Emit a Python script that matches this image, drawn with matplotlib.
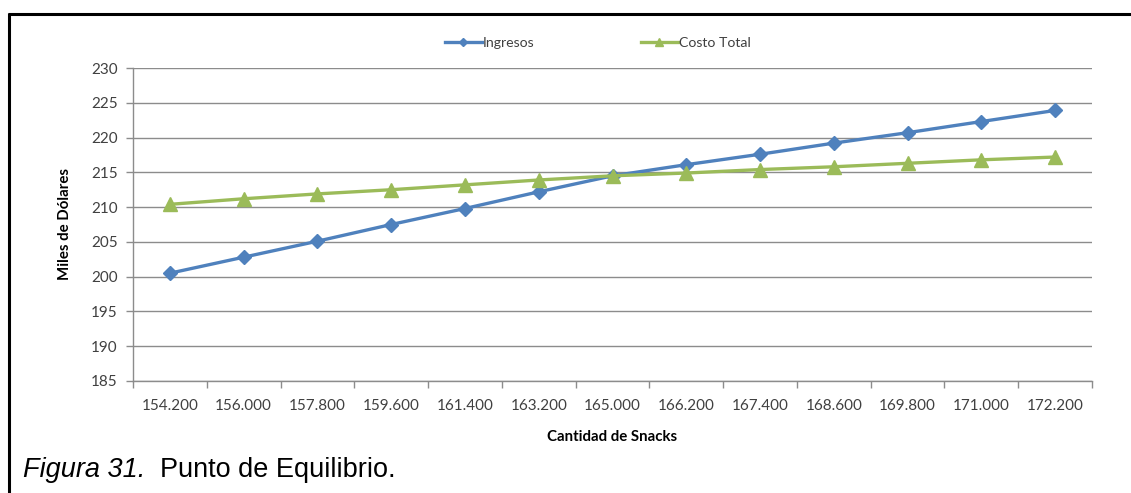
import matplotlib
matplotlib.use("Agg")
import matplotlib.pyplot as plt
from matplotlib.lines import Line2D

# Quantity of snacks (thousands) and amounts in thousands of dollars
cantidades = ["154.200", "156.000", "157.800", "159.600", "161.400", "163.200",
              "165.000", "166.200", "167.400", "168.600", "169.800", "171.000", "172.200"]
ingresos = [200.5, 202.8, 205.1, 207.5, 209.8, 212.2, 214.5, 216.1, 217.6,
            219.2, 220.7, 222.3, 223.9]
costo_total = [210.4, 211.2, 211.9, 212.5, 213.2, 213.9, 214.5, 214.9, 215.4,
               215.8, 216.3, 216.8, 217.2]
y_ticks = [185, 190, 195, 200, 205, 210, 215, 220, 225, 230]

BLUE = "#4F81BD"
GREEN = "#9BBB59"
GRID = "#8C8C8C"
TEXT = "#404040"
FONT = ["Lato", "DejaVu Sans"]

W, H = 1131, 493
fig = plt.figure(figsize=(W / 100, H / 100), dpi=100)
fig.patch.set_facecolor("white")

# frame round the figure (left and top edges visible)
fig.add_artist(Line2D([9 / W, 9 / W], [0, 1 - 13 / H], transform=fig.transFigure,
                      color="black", lw=2.2, solid_capstyle="butt"))
fig.add_artist(Line2D([8 / W, 1], [1 - 14 / H, 1 - 14 / H], transform=fig.transFigure,
                      color="black", lw=2.2, solid_capstyle="butt"))

left, right = 133 / W, 1092 / W
bottom, top = 1 - 381 / H, 1 - 68 / H
ax = fig.add_axes([left, bottom, right - left, top - bottom])

x = list(range(len(cantidades)))
ax.plot(x, ingresos, color=BLUE, lw=2.4, marker="D", markersize=7.5,
        markeredgecolor=BLUE, label="Ingresos", zorder=3)
ax.plot(x, costo_total, color=GREEN, lw=2.4, marker="^", markersize=10,
        markeredgecolor=GREEN, label="Costo Total", zorder=3)

ax.set_xlim(-0.5, len(cantidades) - 0.5)
ax.set_ylim(185, 230)
ax.set_yticks(y_ticks)
ax.set_yticklabels([str(v) for v in y_ticks], fontsize=11, color=TEXT, family=FONT)
ax.set_xticks(x)
ax.set_xticklabels(cantidades, fontsize=11, color=TEXT, family=FONT)
ax.xaxis.set_minor_locator(matplotlib.ticker.FixedLocator(
    [i - 0.5 for i in range(len(cantidades) + 1)]))
ax.tick_params(axis="x", which="major", length=0, pad=13)
ax.tick_params(axis="x", which="minor", length=5, color=GRID, width=1)
ax.tick_params(axis="y", length=5, color=GRID, width=1, pad=6)

ax.grid(axis="y", color=GRID, lw=1)
ax.set_axisbelow(True)
for side in ("top", "right"):
    ax.spines[side].set_visible(False)
for side in ("left", "bottom"):
    ax.spines[side].set_color(GRID)
    ax.spines[side].set_linewidth(1)

ax.set_ylabel("Miles de Dólares", fontsize=10.8, fontweight="bold",
              color="black", family=FONT, labelpad=14)
ax.set_xlabel("Cantidad de Snacks", fontsize=10.8, fontweight="bold",
              color="black", family=FONT, labelpad=12)

leg = fig.legend(loc="center", bbox_to_anchor=(598 / W, 1 - 43 / H), ncol=2,
                 frameon=False, fontsize=10.2, handlelength=2.6, markerscale=0.55,
                 columnspacing=7.5, handletextpad=0.1)
for t in leg.get_texts():
    t.set_color(TEXT)
    t.set_family(FONT)

fig.text(23 / W, 1 - 477 / H, "Figura 31.", fontsize=19.5, style="italic",
         family="Liberation Sans", va="baseline", ha="left")
fig.text(160 / W, 1 - 477 / H, "Punto de Equilibrio.", fontsize=19.5,
         family="Liberation Sans", va="baseline", ha="left")

fig.savefig("out.png", dpi=100, facecolor="white")
